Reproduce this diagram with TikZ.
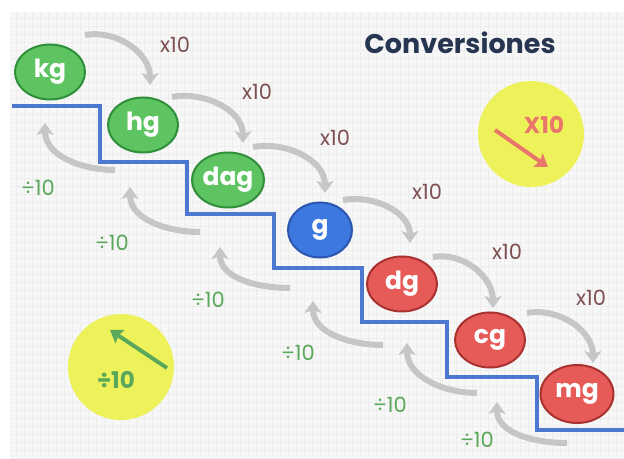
\documentclass[tikz,border=0pt]{standalone}
\usepackage{fontspec}
\setmainfont{Poppins}
\usetikzlibrary{arrows.meta,shapes.geometric}
\definecolor{bgc}{HTML}{F7F7F7}
\definecolor{gridc}{HTML}{EDEDED}
\definecolor{grfill}{HTML}{5EC462}
\definecolor{grline}{HTML}{2F8F3A}
\definecolor{blfill}{HTML}{3D78E0}
\definecolor{blline}{HTML}{2A56B0}
\definecolor{rdfill}{HTML}{E65A57}
\definecolor{rdline}{HTML}{A8322F}
\definecolor{arrc}{HTML}{C6C6C6}
\definecolor{mulc}{HTML}{7D5052}
\definecolor{divc}{HTML}{5AA85A}
\definecolor{titc}{HTML}{273650}
\definecolor{yel}{HTML}{EEF25A}
\definecolor{salm}{HTML}{E8766A}
\definecolor{stairc}{HTML}{4D78CF}
\tikzset{
  unit/.style={ellipse, minimum width=70pt, minimum height=55pt, inner sep=0pt, line width=2pt,
    text=white, font=\fontsize{25}{25}\selectfont\bfseries},
  gunit/.style={unit, fill=grfill, draw=grline},
  bunit/.style={unit, fill=blfill, draw=blline},
  runit/.style={unit, fill=rdfill, draw=rdline},
  mularr/.style={draw=arrc, line width=6pt, -{Stealth[length=12pt,width=17pt,inset=3pt]}},
  mullab/.style={text=mulc, font=\fontsize{21}{21}\selectfont},
  divlab/.style={text=divc, font=\fontsize{21}{21}\selectfont},
  stairline/.style={draw=stairc, line width=4pt, line join=miter},
}
\begin{document}
\begin{tikzpicture}[x=1pt,y=1pt]
\useasboundingbox (0,0) rectangle (624,458);
\fill[white] (0,0) rectangle (624,458);
\fill[bgc] (10,0) rectangle (624,446);
\draw[gridc, line width=0.4pt, step=8pt] (10,0) grid (624,446);

% staircase
\draw[stairline] (12,352) -- (100,352) -- (100,296) -- (187,296) -- (187,244) -- (274,244)
  -- (274,190) -- (362,190) -- (362,136) -- (447,136) -- (447,81) -- (537,81) -- (537,28) -- (624,28);

% units
\node[gunit] (kg)  at (50,386)  {kg};
\node[gunit] (hg)  at (143,333) {hg};
\node[gunit] (dag) at (228,278) {dag};
\node[bunit, minimum width=64pt] (g) at (320,228) {g};
\node[runit] (dg)  at (402,174) {dg};
\node[runit] (cg)  at (490,118) {cg};
\node[runit, minimum width=73pt, minimum height=58pt] (mg)  at (577,64) {mg};

% x10 arrows
\draw[mularr] ([shift={(35,37)}]kg.center) to[out=10,in=90] ([shift={(7,40)}]hg.center);
\draw[mularr] ([shift={(29,28)}]hg.center) to[out=10,in=90] ([shift={(15,37)}]dag.center);
\draw[mularr] ([shift={(25,33)}]dag.center) to[out=10,in=90] ([shift={(5,37)}]g.center);
\draw[mularr] ([shift={(23,30)}]g.center) to[out=10,in=90] ([shift={(8,41)}]dg.center);
\draw[mularr] ([shift={(31,27)}]dg.center) to[out=10,in=90] ([shift={(3,32)}]cg.center);
\draw[mularr] ([shift={(37,27)}]cg.center) to[out=10,in=90] ([shift={(16,31)}]mg.center);

% divide arrows
\draw[mularr] ([shift={(-28,-45)}]hg.center) to[out=180,in=-90] ([shift={(-5,-51)}]kg.center);
\draw[mularr] ([shift={(-28,-52)}]dag.center) to[out=180,in=-90] ([shift={(-13,-62)}]hg.center);
\draw[mularr] ([shift={(-30,-58)}]g.center) to[out=180,in=-90] ([shift={(-8,-67)}]dag.center);
\draw[mularr] ([shift={(-19,-61)}]dg.center) to[out=180,in=-90] ([shift={(-7,-71)}]g.center);
\draw[mularr] ([shift={(-13,-53)}]cg.center) to[out=180,in=-90] ([shift={(5,-59)}]dg.center);
\draw[mularr] ([shift={(-10,-49)}]mg.center) to[out=180,in=-90] ([shift={(7,-62)}]cg.center);

% labels
\node[mullab] (m1) at (175,413) {x10};
\node[mullab] (m2) at (257,366) {x10};
\node[mullab] (m3) at (335,320) {x10};
\node[mullab] (m4) at (427,266) {x10};
\node[mullab] (m5) at (507,206) {x10};
\node[mullab] (m6) at (591,160) {x10};
\node[divlab] (d1) at (38,270) {÷10};
\node[divlab] (d2) at (112,215) {÷10};
\node[divlab] (d3) at (208,158) {÷10};
\node[divlab] (d4) at (298,105) {÷10};
\node[divlab] (d5) at (390,53) {÷10};
\node[divlab] (d6) at (477,18) {÷10};

% title
\node[text=titc, font=\fontsize{27}{27}\selectfont\bfseries] (title) at (460,415) {Conversiones};

% legend circles
\node[circle, fill=yel, minimum size=106pt, inner sep=0pt] (ymul) at (531,324) {};
\node[text=salm, font=\fontsize{23}{23}\selectfont\bfseries] (ymultxt) at (544,333) {X10};
\coordinate (ma) at (495,328);
\coordinate (mb) at (548,291);
\draw[salm, line width=4pt, -{Stealth[length=12pt,width=16pt,inset=2pt]}] (ma) -- (mb);

\node[circle, fill=yel, minimum size=106pt, inner sep=0pt] (ydiv) at (121,91) {};
\node[text=divc, font=\fontsize{23}{23}\selectfont\bfseries] (ydivtxt) at (116,78) {÷10};
\coordinate (da) at (167,90);
\coordinate (db) at (110,128);
\draw[divc, line width=4pt, -{Stealth[length=12pt,width=16pt,inset=2pt]}] (da) -- (db);
\end{tikzpicture}
\end{document}
